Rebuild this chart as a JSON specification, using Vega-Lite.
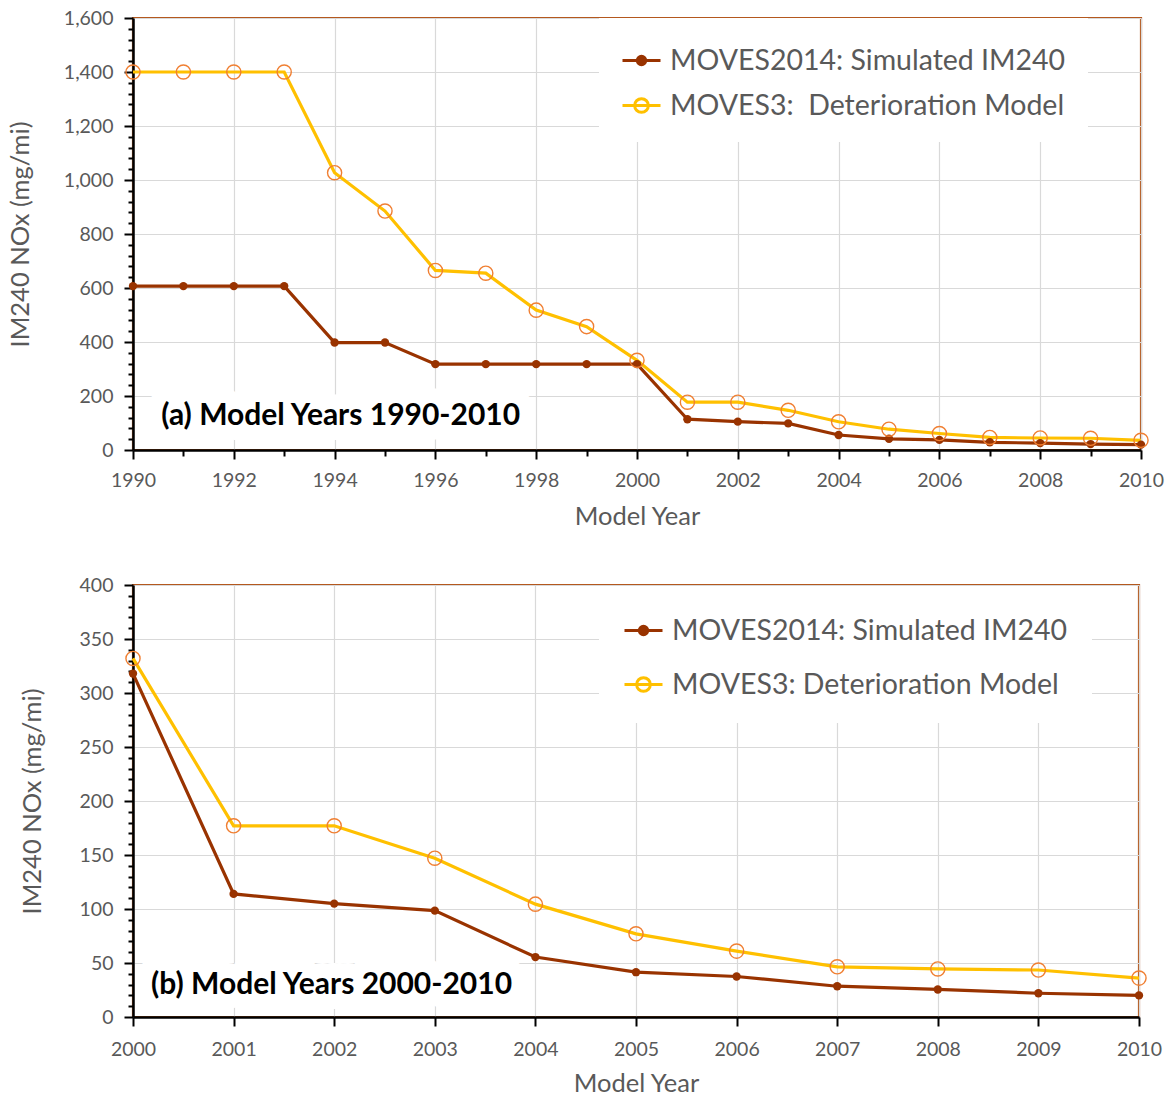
{
  "$schema": "https://vega.github.io/schema/vega-lite/v6.json",
  "background": "white",
  "padding": {"left": 7, "top": 6, "right": 4, "bottom": 0},
  "columns": 1,
  "align": "none",
  "spacing": 42,
  "resolve": {"scale": {"color": "independent"}, "legend": {"color": "independent"}},
  "config": {
    "font": "Lato",
    "view": {"stroke": "#B4581E", "strokeWidth": 2.2},
    "axis": {
      "labelFont": "Lato", "labelFontSize": 19.5, "labelColor": "#595959",
      "titleFont": "Lato", "titleFontSize": 25.5, "titleFontWeight": "normal", "titleColor": "#595959",
      "domainColor": "black", "domainWidth": 2.5, "tickColor": "black", "tickWidth": 2,
      "gridColor": "#D9D9D9", "gridWidth": 1.2, "labelFlush": false, "labelOverlap": false
    },
    "legend": {
      "labelFont": "Lato", "labelFontSize": 28.5, "labelColor": "#595959", "labelLimit": 0,
      "fillColor": "white", "symbolStrokeWidth": 3, "symbolSize": 1444, "labelOffset": 8
    }
  },
  "datasets": {
    "nox": [
      {"year": 1990, "series": "MOVES2014", "nox": 607},
      {"year": 1991, "series": "MOVES2014", "nox": 607},
      {"year": 1992, "series": "MOVES2014", "nox": 607},
      {"year": 1993, "series": "MOVES2014", "nox": 607},
      {"year": 1994, "series": "MOVES2014", "nox": 398},
      {"year": 1995, "series": "MOVES2014", "nox": 398},
      {"year": 1996, "series": "MOVES2014", "nox": 318},
      {"year": 1997, "series": "MOVES2014", "nox": 318},
      {"year": 1998, "series": "MOVES2014", "nox": 318},
      {"year": 1999, "series": "MOVES2014", "nox": 318},
      {"year": 2000, "series": "MOVES2014", "nox": 318},
      {"year": 2001, "series": "MOVES2014", "nox": 114},
      {"year": 2002, "series": "MOVES2014", "nox": 105},
      {"year": 2003, "series": "MOVES2014", "nox": 98.5},
      {"year": 2004, "series": "MOVES2014", "nox": 55.5},
      {"year": 2005, "series": "MOVES2014", "nox": 41.5},
      {"year": 2006, "series": "MOVES2014", "nox": 37.5},
      {"year": 2007, "series": "MOVES2014", "nox": 28.5},
      {"year": 2008, "series": "MOVES2014", "nox": 25.5},
      {"year": 2009, "series": "MOVES2014", "nox": 22},
      {"year": 2010, "series": "MOVES2014", "nox": 20},
      {"year": 1990, "series": "MOVES3", "nox": 1400},
      {"year": 1991, "series": "MOVES3", "nox": 1400},
      {"year": 1992, "series": "MOVES3", "nox": 1400},
      {"year": 1993, "series": "MOVES3", "nox": 1400},
      {"year": 1994, "series": "MOVES3", "nox": 1027},
      {"year": 1995, "series": "MOVES3", "nox": 885},
      {"year": 1996, "series": "MOVES3", "nox": 665},
      {"year": 1997, "series": "MOVES3", "nox": 655},
      {"year": 1998, "series": "MOVES3", "nox": 518},
      {"year": 1999, "series": "MOVES3", "nox": 457},
      {"year": 2000, "series": "MOVES3", "nox": 332},
      {"year": 2001, "series": "MOVES3", "nox": 177},
      {"year": 2002, "series": "MOVES3", "nox": 177},
      {"year": 2003, "series": "MOVES3", "nox": 147},
      {"year": 2004, "series": "MOVES3", "nox": 104.5},
      {"year": 2005, "series": "MOVES3", "nox": 77},
      {"year": 2006, "series": "MOVES3", "nox": 61},
      {"year": 2007, "series": "MOVES3", "nox": 46.5},
      {"year": 2008, "series": "MOVES3", "nox": 44.5},
      {"year": 2009, "series": "MOVES3", "nox": 43.5},
      {"year": 2010, "series": "MOVES3", "nox": 36}
    ]
  },
  "concat": [
    {
      "width": 1008,
      "height": 432,
      "data": {"name": "nox"},
      "encoding": {
        "x": {
          "field": "year", "type": "quantitative",
          "scale": {"domain": [1990, 2010], "nice": false, "zero": false},
          "axis": {
            "title": "Model Year", "format": "d",
            "values": [1990,1991,1992,1993,1994,1995,1996,1997,1998,1999,2000,2001,2002,2003,2004,2005,2006,2007,2008,2009,2010],
            "labelExpr": "datum.value % 2 === 0 ? datum.label : ''",
            "tickSize": {"condition": {"test": "datum.value % 2 === 0", "value": 9}, "value": 6},
            "gridOpacity": {"condition": {"test": "datum.value % 2 === 0", "value": 1}, "value": 0},
            "labelPadding": 12, "titlePadding": 14.5
          }
        },
        "y": {
          "field": "nox", "type": "quantitative",
          "scale": {"domain": [0, 1600], "nice": false},
          "axis": {
            "title": "IM240 NOx (mg/mi)",
            "values": [0,40,80,120,160,200,240,280,320,360,400,440,480,520,560,600,640,680,720,760,800,840,880,920,960,1000,1040,1080,1120,1160,1200,1240,1280,1320,1360,1400,1440,1480,1520,1560,1600],
            "labelExpr": "datum.value % 200 === 0 ? format(datum.value, ',') : ''",
            "tickSize": {"condition": {"test": "datum.value % 200 === 0", "value": 9}, "value": 5},
            "gridOpacity": {"condition": {"test": "datum.value % 200 === 0", "value": 1}, "value": 0},
            "labelPadding": 11, "titlePadding": 29.5
          }
        }
      },
      "layer": [
        {
          "mark": {"type": "line", "strokeWidth": 3.2},
          "encoding": {
            "color": {
              "field": "series", "type": "nominal",
              "scale": {"domain": ["MOVES2014", "MOVES3"], "range": ["#993300", "#FFC000"]},
              "legend": {
                "title": null, "orient": "none", "legendX": 466, "legendY": 0, "padding": 22, "rowPadding": 10,
                "labelExpr": "datum.value === 'MOVES2014' ? 'MOVES2014: Simulated IM240' : 'MOVES3:\u00a0 Deterioration Model'",
                "symbolType": "M-1,0L1,0",
                "encode": {
                  "symbols": {
                    "update": {
                      "shape": {"signal": "datum.value === 'MOVES2014' ? 'M-1,0L1,0M0.22,0A0.22,0.22,0,1,1,-0.22,0A0.22,0.22,0,1,1,0.22,0' : 'M-1,0L1,0M0.36,0A0.36,0.36,0,1,1,-0.36,0A0.36,0.36,0,1,1,0.36,0'"},
                      "fill": {"signal": "datum.value === 'MOVES2014' ? '#993300' : 'white'"},
                      "fillOpacity": {"value": 1}
                    }
                  }
                }
              }
            }
          }
        },
        {
          "transform": [{"filter": "datum.series === 'MOVES2014'"}],
          "mark": {"type": "point", "filled": true, "color": "#993300", "size": 70, "opacity": 1}
        },
        {
          "transform": [{"filter": "datum.series === 'MOVES3'"}],
          "mark": {"type": "point", "filled": false, "stroke": "#F07F32", "strokeWidth": 1.4, "size": 200, "opacity": 1}
        },
        {
          "data": {"values": [{"year": 1990.56, "nox": 126, "label": "(a) Model Years 1990-2010"}]},
          "mark": {"type": "text", "align": "left", "baseline": "middle", "font": "Lato", "fontSize": 30, "fontWeight": "bold", "color": "white", "stroke": "white", "strokeWidth": 30, "strokeJoin": "round"},
          "encoding": {"text": {"field": "label"}}
        },
        {
          "data": {"values": [{"year": 1990.56, "nox": 126, "label": "(a) Model Years 1990-2010"}]},
          "mark": {"type": "text", "align": "left", "baseline": "middle", "font": "Lato", "fontSize": 30, "fontWeight": "bold", "color": "black"},
          "encoding": {"text": {"field": "label"}}
        }
      ]
    },
    {
      "width": 1006,
      "height": 432,
      "data": {"name": "nox"},
      "transform": [{"filter": "datum.year >= 2000"}],
      "encoding": {
        "x": {
          "field": "year", "type": "quantitative",
          "scale": {"domain": [2000, 2010], "nice": false, "zero": false},
          "axis": {
            "title": "Model Year", "format": "d",
            "values": [2000,2001,2002,2003,2004,2005,2006,2007,2008,2009,2010],
            "tickSize": 9, "labelPadding": 14, "titlePadding": 12.5
          }
        },
        "y": {
          "field": "nox", "type": "quantitative",
          "scale": {"domain": [0, 400], "nice": false},
          "axis": {
            "title": "IM240 NOx (mg/mi)",
            "values": [0,10,20,30,40,50,60,70,80,90,100,110,120,130,140,150,160,170,180,190,200,210,220,230,240,250,260,270,280,290,300,310,320,330,340,350,360,370,380,390,400],
            "labelExpr": "datum.value % 50 === 0 ? datum.label : ''",
            "tickSize": {"condition": {"test": "datum.value % 50 === 0", "value": 9}, "value": 5},
            "gridOpacity": {"condition": {"test": "datum.value % 50 === 0", "value": 1}, "value": 0},
            "labelPadding": 11, "titlePadding": 33.5
          }
        }
      },
      "layer": [
        {
          "mark": {"type": "line", "strokeWidth": 3.2},
          "encoding": {
            "color": {
              "field": "series", "type": "nominal",
              "scale": {"domain": ["MOVES2014", "MOVES3"], "range": ["#993300", "#FFC000"]},
              "legend": {
                "title": null, "orient": "none", "legendX": 466, "legendY": 1, "padding": 24, "rowPadding": 19,
                "labelExpr": "datum.value === 'MOVES2014' ? 'MOVES2014: Simulated IM240' : 'MOVES3: Deterioration Model'",
                "symbolType": "M-1,0L1,0",
                "encode": {
                  "symbols": {
                    "update": {
                      "shape": {"signal": "datum.value === 'MOVES2014' ? 'M-1,0L1,0M0.22,0A0.22,0.22,0,1,1,-0.22,0A0.22,0.22,0,1,1,0.22,0' : 'M-1,0L1,0M0.36,0A0.36,0.36,0,1,1,-0.36,0A0.36,0.36,0,1,1,0.36,0'"},
                      "fill": {"signal": "datum.value === 'MOVES2014' ? '#993300' : 'white'"},
                      "fillOpacity": {"value": 1}
                    }
                  }
                }
              }
            }
          }
        },
        {
          "transform": [{"filter": "datum.series === 'MOVES2014'"}],
          "mark": {"type": "point", "filled": true, "color": "#993300", "size": 70, "opacity": 1}
        },
        {
          "transform": [{"filter": "datum.series === 'MOVES3'"}],
          "mark": {"type": "point", "filled": false, "stroke": "#F07F32", "strokeWidth": 1.4, "size": 200, "opacity": 1}
        },
        {
          "data": {"values": [{"year": 2000.18, "nox": 29.6, "label": "(b) Model Years 2000-2010"}]},
          "mark": {"type": "text", "align": "left", "baseline": "middle", "font": "Lato", "fontSize": 30, "fontWeight": "bold", "color": "white", "stroke": "white", "strokeWidth": 30, "strokeJoin": "round"},
          "encoding": {"text": {"field": "label"}}
        },
        {
          "data": {"values": [{"year": 2000.18, "nox": 29.6, "label": "(b) Model Years 2000-2010"}]},
          "mark": {"type": "text", "align": "left", "baseline": "middle", "font": "Lato", "fontSize": 30, "fontWeight": "bold", "color": "black"},
          "encoding": {"text": {"field": "label"}}
        }
      ]
    }
  ]
}
